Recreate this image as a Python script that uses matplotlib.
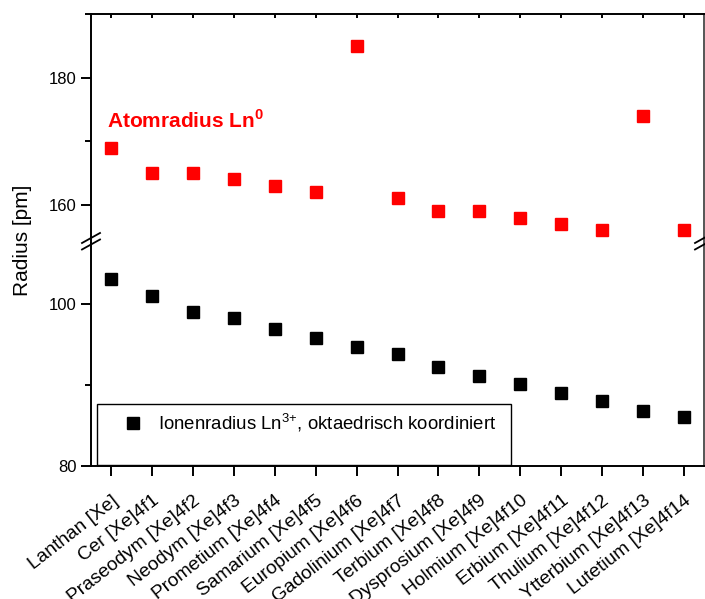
import matplotlib
matplotlib.use("Agg")
import matplotlib.pyplot as plt
from matplotlib.lines import Line2D
from matplotlib.patches import Rectangle
from matplotlib.ticker import MultipleLocator

# ---- data ----
elements = ["Lanthan [Xe]", "Cer [Xe]4f1", "Praseodym [Xe]4f2", "Neodym [Xe]4f3",
            "Prometium [Xe]4f4", "Samarium [Xe]4f5", "Europium [Xe]4f6",
            "Gadolinium [Xe]4f7", "Terbium [Xe]4f8", "Dysprosium [Xe]4f9",
            "Holmium [Xe]4f10", "Erbium [Xe]4f11", "Thulium [Xe]4f12",
            "Ytterbium [Xe]4f13", "Lutetium [Xe]4f14"]
atom_radius = [169, 165, 165, 164, 163, 162, 185, 161, 159, 159, 158, 157, 156, 174, 156]
ion_radius = [103.2, 101.0, 99.0, 98.3, 97.0, 95.8, 94.7, 93.8, 92.3, 91.2,
              90.1, 89.0, 88.0, 86.8, 86.1]

plt.rcParams["font.family"] = ["Liberation Sans", "DejaVu Sans"]
plt.rcParams["mathtext.fontset"] = "custom"
plt.rcParams["mathtext.rm"] = "Liberation Sans"
plt.rcParams["mathtext.bf"] = "Liberation Sans:bold"

W, H = 705, 599
fig = plt.figure(figsize=(W / 100, H / 100), dpi=100)

def fx(px):
    return px / W

def fy(py):
    return 1 - py / H

left, right = 91, 704
top, brk, bottom = 14, 243, 466
ax_up = fig.add_axes([fx(left), fy(brk), fx(right - left), fy(top) - fy(brk)])
ax_lo = fig.add_axes([fx(left), fy(bottom), fx(right - left), fy(brk) - fy(bottom)])

x = list(range(len(elements)))
ax_up.plot(x, atom_radius, "s", color="red", ms=8, mec="red")
ax_lo.plot(x, ion_radius, "s", color="black", ms=8, mec="black")

lw = 1.4
for ax in (ax_up, ax_lo):
    ax.set_xlim(-0.49, 14.49)
    for s in ax.spines.values():
        s.set_linewidth(lw)
    ax.spines["right"].set_color("#555555")
    ax.tick_params(axis="y", which="major", direction="out", length=7, width=lw, labelsize=12)
    ax.tick_params(axis="y", which="minor", direction="out", length=4, width=lw)
    ax.tick_params(axis="y", right=False)

ax_up.set_ylim(154, 190)
ax_up.yaxis.set_major_locator(MultipleLocator(20))
ax_up.yaxis.set_minor_locator(MultipleLocator(10))
ax_up.spines["bottom"].set_visible(False)
ax_up.set_xticks(x)
ax_up.tick_params(axis="x", bottom=False, labelbottom=False, top=True,
                  direction="in", length=3, width=lw)
ax_up.set_yticks([160, 180])

ax_lo.set_ylim(80, 107.6)
ax_lo.yaxis.set_major_locator(MultipleLocator(20))
ax_lo.yaxis.set_minor_locator(MultipleLocator(10))
ax_lo.spines["top"].set_visible(False)
ax_lo.set_xticks(x)
ax_lo.set_xticklabels(elements, rotation=38, ha="right", rotation_mode="anchor", fontsize=13.8)
ax_lo.tick_params(axis="x", direction="out", length=7, width=lw, pad=12)

fig.text(fx(23), fy(240), "Radius [pm]", rotation=90, ha="center", va="center", fontsize=15)

# break marks
for bx in (left, right):
    for by in (238, 244.5):
        fig.add_artist(Line2D([fx(bx - 9), fx(bx + 9)], [fy(by + 5), fy(by - 5)],
                              color="black", lw=1.3, transform=fig.transFigure))

ax_up.text(fx(107), fy(128), r"Atomradius Ln$^{\mathbf{0}}$", color="red",
           fontsize=15, fontweight="bold", transform=fig.transFigure,
           ha="left", va="baseline")

# legend box
fig.add_artist(Rectangle((fx(97), fy(465)), fx(511 - 97), fy(404) - fy(465),
                         transform=fig.transFigure, fill=True, facecolor="white",
                         edgecolor="black", lw=1.0, zorder=5))
handle = Line2D([], [], ls="none", marker="s", color="black", ms=8)
leg = fig.legend([handle], [r"Ionenradius Ln$^{3{+}}$, oktaedrisch koordiniert"],
                 loc="center left", bbox_to_anchor=(fx(124), fy(423)),
                 frameon=False, fontsize=13.4, handlelength=1.0, handletextpad=0.85,
                 borderpad=0, borderaxespad=0)
leg.set_zorder(6)

fig.savefig("out.png", dpi=100)
